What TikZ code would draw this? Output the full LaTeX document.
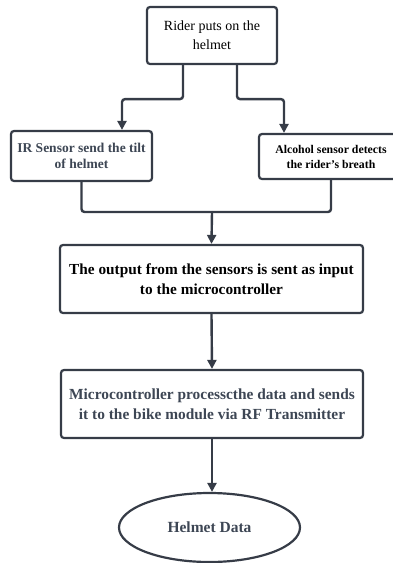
\documentclass[tikz,border=0pt]{standalone}
\usepackage{fontspec}
\setmainfont{Liberation Serif}
\usetikzlibrary{arrows.meta,shapes.geometric}
\definecolor{edge}{HTML}{363C47}
\definecolor{slate}{HTML}{3D4654}
\begin{document}
\begin{tikzpicture}[x=1pt,y=-1pt,
box/.style={draw=edge, line width=2.2pt, rounded corners=3pt, align=center, inner sep=0pt},
oval/.style={draw=edge, line width=2.2pt, ellipse, align=center, inner sep=0pt},
link/.style={draw=edge, line width=2.4pt, rounded corners=3pt},
arrow/.style={link, -{Triangle[length=9pt,width=9pt]}}
]
\useasboundingbox (0,0) rectangle (393,563);
\node[box, minimum width=130pt, minimum height=57pt, font=\fontsize{14}{19}\selectfont] (rider) at (212,35.5) {Rider puts on the\\helmet};
\node[box, minimum width=141pt, minimum height=50pt, text=slate, font=\fontsize{13.5}{16.5}\selectfont\bfseries] (ir) at (81.5,156) {IR Sensor send the tilt\\of helmet};
\node[box, minimum width=144pt, minimum height=45pt, font=\fontsize{11.8}{15}\selectfont\bfseries] (alc) at (331,156.5) {Alcohol sensor detects\\the rider's breath};
\node[box, minimum width=303pt, minimum height=68pt, font=\fontsize{15.3}{20}\selectfont\bfseries] (out) at (211.5,279) {The output from the sensors is sent as input\\to the microcontroller};
\node[box, minimum width=302pt, minimum height=68pt, text=slate, font=\fontsize{15.4}{20}\selectfont\bfseries] (mcu) at (212,404) {Microcontroller processcthe data and sends\\it to the bike module via RF Transmitter};
\node[oval, minimum width=181pt, minimum height=69pt, text=slate, font=\fontsize{15.5}{18}\selectfont\bfseries] (data) at (209.5,527.5) {Helmet Data};
% sensors
\draw[arrow] ([xshift=-29pt]rider.south) -- ++(0,34) -| ([xshift=40.5pt]ir.north);
\draw[arrow] ([xshift=25pt]rider.south) -- ++(0,34) -| ([xshift=-47pt]alc.north);
\coordinate (merge) at (212,212);
\draw[link] (ir.south) |- (merge);
\draw[link] (alc.south) |- (merge);
\draw[arrow] (merge) -- (out.north);
\draw[arrow] (out.south) -- (mcu.north);
\draw[arrow] (mcu.south) -- (mcu.south |- data.north);
\end{tikzpicture}
\end{document}
